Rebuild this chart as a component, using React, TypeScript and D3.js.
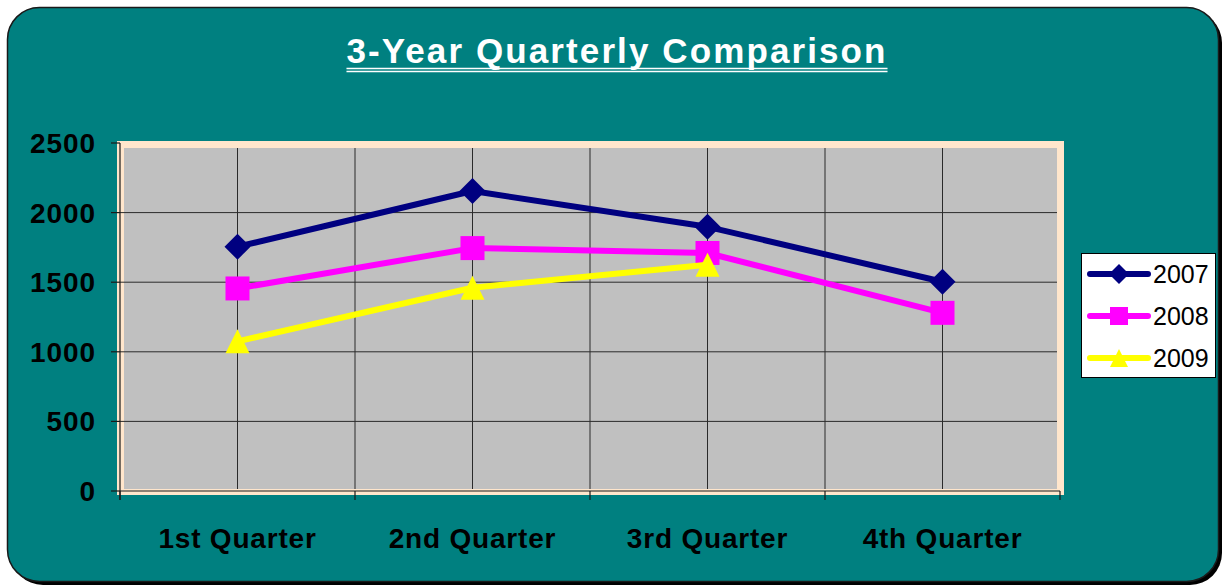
import { useEffect, useRef } from "react";
import * as d3 from "d3";

const quarters = ["1st Quarter", "2nd Quarter", "3rd Quarter", "4th Quarter"];
const years = ["2007", "2008", "2009"];
const values2007 = [1755, 2155, 1898, 1503];
const values2008 = [1455, 1745, 1710, 1280];
const values2009 = [1075, 1460, 1625, null];
const yTicks = [0, 500, 1000, 1500, 2000, 2500];
const colors = ["#000080", "#ff00ff", "#ffff00"];
const markers = ["diamond", "square", "triangle"];

const W = 1225;
const H = 588;

function markerPath(kind: string, size: number) {
  const r = size / 2;
  if (kind === "diamond") return `M0,${-r}L${r},0L0,${r}L${-r},0Z`;
  if (kind === "square") return `M${-r},${-r}H${r}V${r}H${-r}Z`;
  return `M0,${-r}L${r},${r}L${-r},${r}Z`;
}

const App = () => {
  const svgRef = useRef<SVGSVGElement | null>(null);

  useEffect(() => {
    if (!svgRef.current) return;
    const svg = d3.select(svgRef.current);
    svg.selectAll("*").remove();

    const font = "Arial, 'Liberation Sans', sans-serif";

    // frame
    svg.append("rect")
      .attr("x", 11).attr("y", 11).attr("width", 1211).attr("height", 574)
      .attr("rx", 32).attr("fill", "#000");
    svg.append("rect")
      .attr("x", 7.5).attr("y", 7.5).attr("width", 1211).attr("height", 574)
      .attr("rx", 32).attr("fill", "#008080").attr("stroke", "#1a1a1a").attr("stroke-width", 1.5);

    // title with double underline
    const title = svg.append("text")
      .attr("x", 617).attr("y", 63)
      .attr("text-anchor", "middle")
      .attr("font-family", font).attr("font-weight", "bold").attr("font-size", 35)
      .attr("letter-spacing", 2.1)
      .attr("fill", "#fff")
      .text("3-Year Quarterly Comparison");
    const tw = (title.node() as SVGTextElement).getComputedTextLength();
    [68.5, 71.5].forEach((uy) => {
      svg.append("line")
        .attr("x1", 617 - tw / 2).attr("x2", 617 + tw / 2)
        .attr("y1", uy).attr("y2", uy)
        .attr("stroke", "#fff").attr("stroke-width", 1.6);
    });

    const x = d3.scaleBand().domain(quarters).range([120, 1060]);
    const y = d3.scaleLinear().domain([0, 2500]).range([491, 143]);
    const [x0, x1] = x.range();
    const y0 = y(0), yTop = y(2500);

    // plot area
    svg.append("rect")
      .attr("x", x0 - 3).attr("y", yTop - 2).attr("width", x1 - x0 + 7).attr("height", y0 - yTop + 6)
      .attr("fill", "#ffe6cc");
    svg.append("rect")
      .attr("x", x0 + 4).attr("y", yTop + 5).attr("width", x1 - x0 - 7).attr("height", y0 - yTop - 7)
      .attr("fill", "#c0c0c0");

    // horizontal gridlines
    svg.append("g")
      .selectAll("line")
      .data(yTicks.filter((t) => t > 0 && t < 2500))
      .join("line")
      .attr("x1", x0).attr("x2", x1 - 3)
      .attr("y1", (d) => y(d)).attr("y2", (d) => y(d))
      .attr("stroke", "#2a2a2a").attr("stroke-width", 1);

    // vertical gridlines at centers and band boundaries
    const vLines: number[] = [];
    quarters.forEach((q, i) => {
      vLines.push((x(q) as number) + x.bandwidth() / 2);
      if (i > 0) vLines.push(x(q) as number);
    });
    svg.append("g")
      .selectAll("line")
      .data(vLines)
      .join("line")
      .attr("x1", (d) => d).attr("x2", (d) => d)
      .attr("y1", yTop + 5).attr("y2", y0 - 2)
      .attr("stroke", "#2a2a2a").attr("stroke-width", 1);

    // axes
    const axisColor = "#1a1a1a";
    svg.append("line")
      .attr("x1", x0).attr("x2", x0).attr("y1", yTop).attr("y2", y0 + 9)
      .attr("stroke", axisColor).attr("stroke-width", 1.2);
    svg.append("line")
      .attr("x1", x0).attr("x2", x1).attr("y1", y0).attr("y2", y0)
      .attr("stroke", axisColor).attr("stroke-width", 1.2);

    svg.append("g")
      .selectAll("line")
      .data(yTicks)
      .join("line")
      .attr("x1", x0 - 9).attr("x2", x0)
      .attr("y1", (d) => y(d)).attr("y2", (d) => y(d))
      .attr("stroke", axisColor).attr("stroke-width", 1.2);

    const bounds = [...quarters.map((q) => x(q) as number), x1];
    svg.append("g")
      .selectAll("line")
      .data(bounds)
      .join("line")
      .attr("x1", (d) => d).attr("x2", (d) => d)
      .attr("y1", y0).attr("y2", y0 + 9)
      .attr("stroke", axisColor).attr("stroke-width", 1.2);

    svg.append("g")
      .selectAll("text")
      .data(yTicks)
      .join("text")
      .attr("x", 96).attr("y", (d) => y(d) + 10)
      .attr("text-anchor", "end")
      .attr("font-family", font).attr("font-weight", "bold").attr("font-size", 28)
      .attr("letter-spacing", 0.9)
      .attr("fill", "#000")
      .text((d) => d);

    svg.append("g")
      .selectAll("text")
      .data(quarters)
      .join("text")
      .attr("x", (d) => (x(d) as number) + x.bandwidth() / 2)
      .attr("y", 548)
      .attr("text-anchor", "middle")
      .attr("font-family", font).attr("font-weight", "bold").attr("font-size", 28)
      .attr("letter-spacing", 0.8)
      .attr("fill", "#000")
      .text((d) => d);

    // series
    const series = [values2007, values2008, values2009];
    series.forEach((vals, si) => {
      const pts = vals
        .map((v, i) => ({ q: quarters[i], v }))
        .filter((p) => p.v !== null) as { q: string; v: number }[];
      const line = d3.line<{ q: string; v: number }>()
        .x((d) => (x(d.q) as number) + x.bandwidth() / 2)
        .y((d) => y(d.v));
      svg.append("path")
        .attr("d", line(pts))
        .attr("fill", "none")
        .attr("stroke", colors[si])
        .attr("stroke-width", 6)
        .attr("stroke-linejoin", "round");
      svg.append("g")
        .selectAll("path")
        .data(pts)
        .join("path")
        .attr("transform", (d) => `translate(${(x(d.q) as number) + x.bandwidth() / 2},${y(d.v)})`)
        .attr("d", markerPath(markers[si], si === 0 ? 26 : 24))
        .attr("fill", colors[si]);
    });

    // legend
    const lg = svg.append("g").attr("transform", "translate(1081,253)");
    lg.append("rect")
      .attr("x", 0.5).attr("y", 0.5).attr("width", 134).attr("height", 124)
      .attr("fill", "#fff").attr("stroke", "#000").attr("stroke-width", 1);
    years.forEach((yr, i) => {
      const cy = 21 + i * 42;
      lg.append("line")
        .attr("x1", 9).attr("x2", 67).attr("y1", cy).attr("y2", cy)
        .attr("stroke", colors[i]).attr("stroke-width", 6).attr("stroke-linecap", "round");
      lg.append("path")
        .attr("transform", `translate(38,${cy})`)
        .attr("d", markerPath(markers[i], i === 0 ? 20 : 18))
        .attr("fill", colors[i]);
      lg.append("text")
        .attr("x", 72).attr("y", cy + 9)
        .attr("font-family", font).attr("font-size", 25)
        .attr("fill", "#000")
        .text(yr);
    });
  }, []);

  return (
    <svg
      ref={svgRef}
      width={W}
      height={H}
      style={{ position: "absolute", left: 0, top: 0, display: "block" }}
    />
  );
};

export default App;
